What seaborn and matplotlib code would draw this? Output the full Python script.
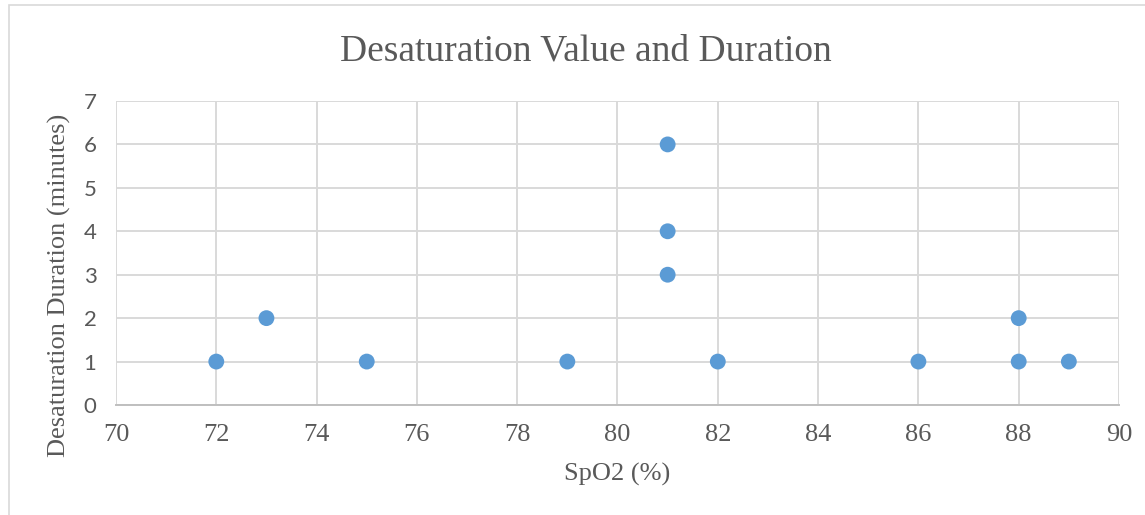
import pandas as pd
import matplotlib.pyplot as plt
import matplotlib.patches as patches
import seaborn as sns

# SpO2 (%) and desaturation duration (minutes)
spo2 = [72, 73, 75, 79, 81, 81, 81, 82, 86, 88, 88, 89]
duration = [1, 2, 1, 1, 6, 4, 3, 1, 1, 2, 1, 1]
x_ticks = [70, 72, 74, 76, 78, 80, 82, 84, 86, 88, 90]
y_ticks = [0, 1, 2, 3, 4, 5, 6, 7]

df = pd.DataFrame({"SpO2": spo2, "Duration": duration})

sns.set_style("white")
plt.rcParams['font.family'] = ['Liberation Serif', 'DejaVu Serif']

fig = plt.figure(figsize=(11.45, 5.15), dpi=100)
ax = fig.add_axes([0.1013, 0.2136, 0.8760, 0.5903])

# outer chart border
fig.patches.append(patches.Rectangle((9 / 1145, -0.01), 1.02, 1 - 5 / 515 + 0.01,
                                     transform=fig.transFigure, fill=False,
                                     edgecolor="#d9d9d9", linewidth=1.2))

sns.scatterplot(data=df, x="SpO2", y="Duration", ax=ax, color="#5b9bd5",
                s=130, edgecolor="none", zorder=3, clip_on=False)

ax.set_xlim(70, 90)
ax.set_ylim(0, 7)
ax.set_xticks(x_ticks)
ax.set_yticks(y_ticks)
ax.grid(True, color="#d9d9d9", linewidth=1.4)
ax.set_axisbelow(True)
for side in ["top", "right", "left"]:
    ax.spines[side].set_visible(False)
ax.spines["bottom"].set_color("#bfbfbf")
ax.spines["bottom"].set_linewidth(1.4)
ax.tick_params(length=0)
ax.tick_params(axis="x", labelsize=19, labelcolor="#595959", pad=14)
ax.tick_params(axis="y", labelsize=16, labelcolor="#595959", pad=14)
for lbl in ax.get_yticklabels():
    lbl.set_fontfamily("Lato")

ax.set_xlabel("SpO2 (%)", fontsize=19, color="#595959", labelpad=12)
ax.set_ylabel("Desaturation Duration (minutes)", fontsize=19, color="#595959")
ax.yaxis.set_label_coords(-0.045, 0.395)

fig.text(0.512, 0.9, "Desaturation Value and Duration", fontsize=27,
         color="#595959", ha="center", va="center")

fig.savefig("out.png", dpi=100)
